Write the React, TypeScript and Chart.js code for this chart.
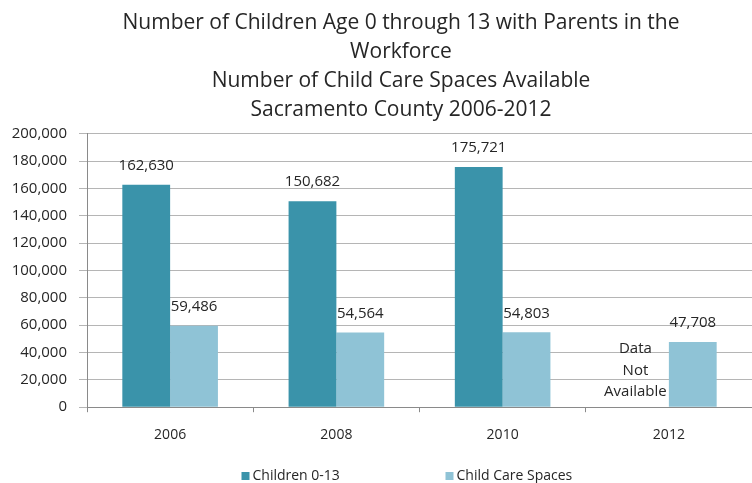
import { useEffect, useRef } from "react";
import { Chart, registerables } from "chart.js";

Chart.register(...registerables);

const categories = ["2006", "2008", "2010", "2012"];
const childrenValues: (number | null)[] = [162630, 150682, 175721, null];
const careSpaceValues: (number | null)[] = [59486, 54564, 54803, 47708];
const seriesNames = ["Children 0-13", "Child Care Spaces"];
const seriesColors = ["#3A93AA", "#8FC3D6"];
const titleLines = [
  "Number of Children Age 0 through 13 with Parents in the",
  "Workforce",
  "Number of Child Care Spaces Available",
  "Sacramento County 2006-2012",
];
const missingNote = ["Data", "Not", "Available"];
const yMax = 200000;
const yStep = 20000;

const FONT = "'Open Sans'";
const TEXT = "#262626";

const fmt = (v: number) => v.toLocaleString("en-US");

const valueLabels = {
  id: "valueLabels",
  afterDatasetsDraw(chart: any) {
    const ctx = chart.ctx;
    ctx.save();
    ctx.font = `15px ${FONT}`;
    ctx.fillStyle = TEXT;
    ctx.textAlign = "center";
    ctx.textBaseline = "middle";
    chart.data.datasets.forEach((ds: any, di: number) => {
      const meta = chart.getDatasetMeta(di);
      meta.data.forEach((el: any, i: number) => {
        const v = ds.data[i];
        if (v == null) return;
        ctx.fillText(fmt(v), el.x, el.y - 19);
      });
    });
    // note for the missing value
    const missingIdx = childrenValues.findIndex((v) => v == null);
    if (missingIdx >= 0) {
      const other = chart.getDatasetMeta(1).data[missingIdx];
      const y0 = chart.scales.y.getPixelForValue(0);
      const x = other.x - other.width * 1.2;
      missingNote.forEach((t, k) => ctx.fillText(t, x, y0 - 58 + k * 21.5));
    }
    ctx.restore();
  },
};

const titleShift = {
  id: "titleShift",
  afterLayout(chart: any) {
    if (chart.titleBlock) chart.titleBlock.left = 50;
  },
};

const customLegend = {
  id: "customLegend",
  afterDraw(chart: any) {
    const ctx = chart.ctx;
    const { left, right } = chart.chartArea;
    const cx = (left + right) / 2;
    const y = chart.height - 7;
    const offsets = [-178, 26];
    ctx.save();
    ctx.font = `14px ${FONT}`;
    ctx.textBaseline = "middle";
    ctx.textAlign = "left";
    seriesNames.forEach((name, i) => {
      const x = cx + offsets[i];
      ctx.fillStyle = seriesColors[i];
      ctx.fillRect(x, y - 4, 8, 8);
      ctx.fillStyle = TEXT;
      ctx.fillText(name, x + 11, y);
    });
    ctx.restore();
  },
};

export default function App() {
  const ref = useRef<HTMLCanvasElement | null>(null);

  useEffect(() => {
    document.body.style.margin = "0";
    if (!ref.current) return;
    const chart = new Chart(ref.current, {
      type: "bar",
      data: {
        labels: categories,
        datasets: [
          {
            label: seriesNames[0],
            data: childrenValues,
            backgroundColor: seriesColors[0],
            categoryPercentage: 0.575,
            barPercentage: 1,
          },
          {
            label: seriesNames[1],
            data: careSpaceValues,
            backgroundColor: seriesColors[1],
            categoryPercentage: 0.575,
            barPercentage: 1,
          },
        ],
      },
      options: {
        animation: false,
        responsive: false,
        layout: { padding: { left: 8, right: 0, top: 0, bottom: 26 } },
        plugins: {
          legend: { display: false },
          tooltip: { enabled: false },
          title: {
            display: true,
            text: titleLines,
            color: TEXT,
            font: { family: FONT, size: 21, weight: "normal", lineHeight: 1.39 },
            padding: { top: 8, bottom: 9 },
          },
        },
        scales: {
          x: {
            grid: {
              display: true,
              drawOnChartArea: false,
              drawTicks: true,
              tickLength: 5,
              color: "#8a8a8a",
              offset: true,
            },
            border: { color: "#8a8a8a" },
            ticks: {
              color: TEXT,
              font: { family: FONT, size: 14 },
              padding: 14,
            },
          },
          y: {
            min: 0,
            max: yMax,
            afterFit(scale: any) {
              scale.width = 79;
            },
            ticks: {
              stepSize: yStep,
              color: TEXT,
              font: { family: FONT, size: 15 },
              padding: 12,
              callback: (v: any) => fmt(Number(v)),
            },
            grid: { color: "#b5b5b5", tickLength: 8, drawTicks: true },
            border: { color: "#8a8a8a" },
          },
        },
      },
      plugins: [valueLabels, titleShift, customLegend],
    });
    return () => chart.destroy();
  }, []);

  return (
    <div style={{ width: 752, height: 483 }}>
      <canvas ref={ref} width={752} height={483} style={{ display: "block" }} />
    </div>
  );
}
